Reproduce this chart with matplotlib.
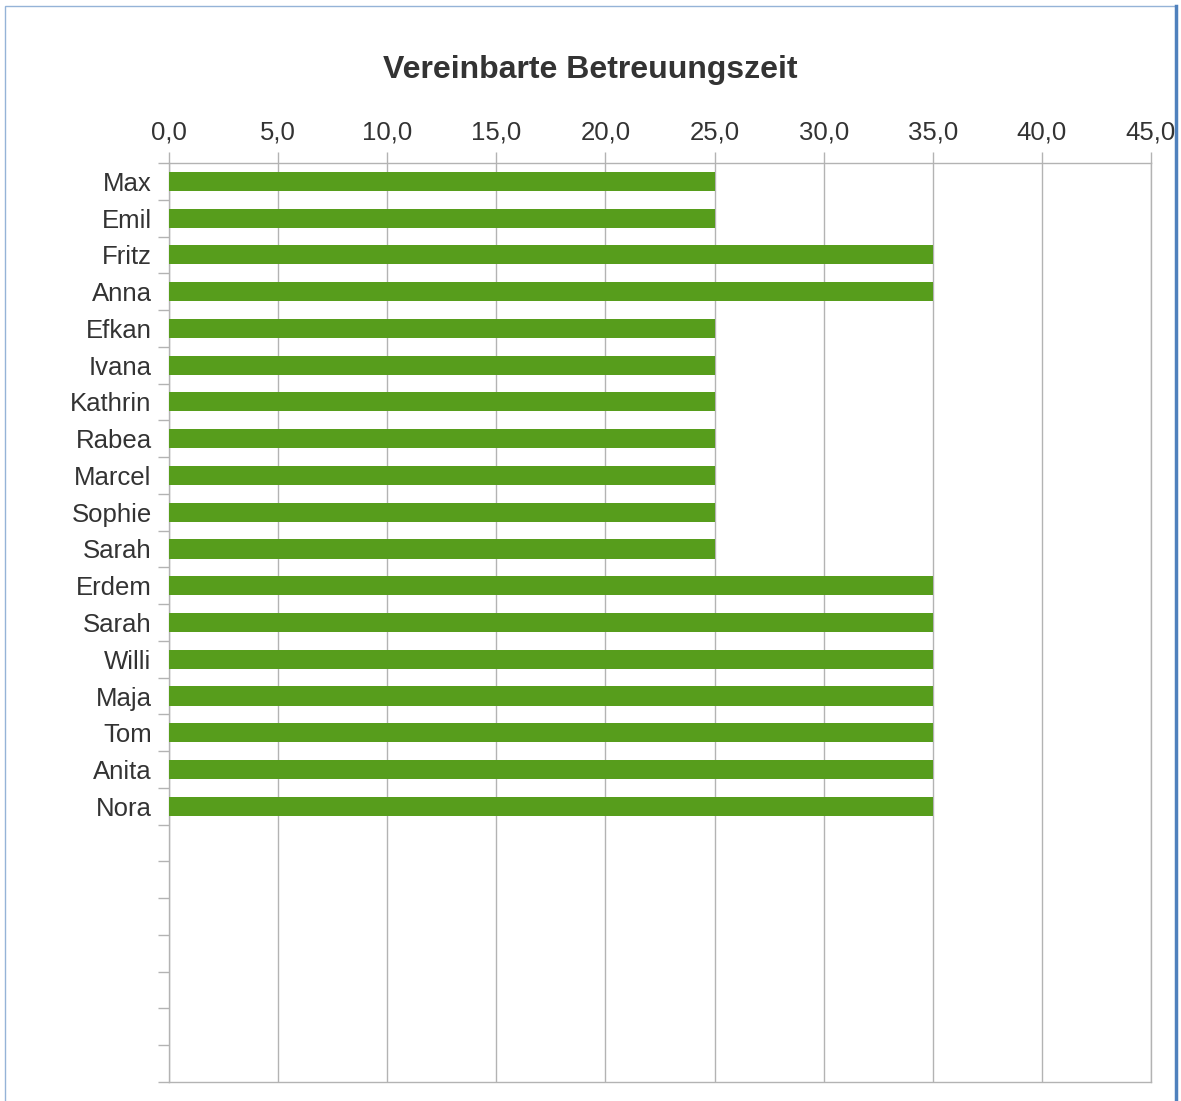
import numpy as np
import matplotlib.pyplot as plt
from matplotlib.patches import Rectangle
from matplotlib.ticker import FixedLocator, FuncFormatter

plt.rcParams['font.family'] = ['Liberation Sans', 'DejaVu Sans']

# Daten
names = ['Max', 'Emil', 'Fritz', 'Anna', 'Efkan', 'Ivana', 'Kathrin', 'Rabea',
         'Marcel', 'Sophie', 'Sarah', 'Erdem', 'Sarah', 'Willi', 'Maja', 'Tom',
         'Anita', 'Nora']
hours = [25, 25, 35, 35, 25, 25, 25, 25, 25, 25, 25, 35, 35, 35, 35, 35, 35, 35]
n_slots = 25  # inkl. leere Zeilen unten
x_ticks = [0, 5, 10, 15, 20, 25, 30, 35, 40, 45]

green = '#579d1c'
grid = '#b3b3b3'
text = '#333333'

fig = plt.figure(figsize=(11.81, 11.01), dpi=100)
W, H = 1181, 1101
ax = fig.add_axes([169 / W, 1 - 1082 / H, (1151 - 169) / W, (1082 - 163) / H])

ypos = np.arange(len(hours))
ax.barh(ypos, hours, height=0.52, color=green, zorder=3)

ax.set_xlim(0, 45)
ax.set_ylim(n_slots - 0.5, -0.5)

# x-Achse oben
ax.xaxis.tick_top()
ax.set_xticks(x_ticks)
ax.xaxis.set_major_formatter(FuncFormatter(lambda v, p: f'{v:.1f}'.replace('.', ',')))
ax.tick_params(axis='x', which='major', length=8, width=1, color=grid,
               labelsize=18.5, labelcolor=text, pad=5, direction='out')
ax.grid(axis='x', color=grid, linewidth=1, zorder=0)

# y-Achse: Namen in der Mitte, Striche an den Grenzen
ax.set_yticks(ypos)
ax.set_yticklabels(names)
ax.yaxis.set_minor_locator(FixedLocator(np.arange(-0.5, n_slots, 1)))
ax.tick_params(axis='y', which='major', length=0, labelsize=18.5,
               labelcolor=text, pad=12.5)
ax.tick_params(axis='y', which='minor', length=8, width=1, color=grid)

for s in ax.spines.values():
    s.set_color(grid)
    s.set_linewidth(1)

fig.text(590.5 / W, 1 - 70 / H, 'Vereinbarte Betreuungszeit', ha='center',
         va='center', fontsize=23, fontweight='bold', color=text)

# Rahmen
fig.add_artist(Rectangle((5 / W, -0.1), (1176 - 5) / W, 1 - 6 / H + 0.1,
                         transform=fig.transFigure, fill=False,
                         edgecolor='#95b3d7', linewidth=1))
fig.add_artist(plt.Line2D([1176 / W, 1176 / W], [0, 1 - 6 / H],
                          transform=fig.transFigure, color='#4f81bd', linewidth=2.5))

fig.savefig('out.png', dpi=100)
